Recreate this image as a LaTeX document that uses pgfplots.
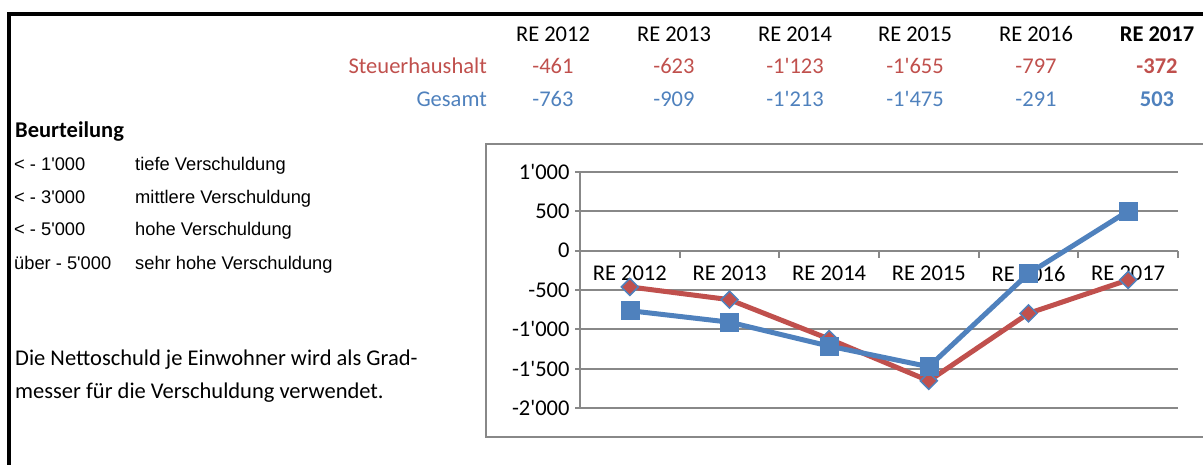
\documentclass[border=0pt]{standalone}
\usepackage{pgfplots}
\pgfplotsset{compat=1.18}
\usepackage{fontspec}
\setmainfont{Carlito}
\newfontfamily\arial{Liberation Sans}
\definecolor{xlRed}{HTML}{C0504D}
\definecolor{xlBlue}{HTML}{4F81BD}
\definecolor{gridG}{HTML}{888888}
\newcommand\q{\textquotesingle}
\newcommand\calf{\fontsize{22.5}{26}\selectfont}
\newcommand\arf{\arial\fontsize{18.3}{22}\selectfont}

\begin{document}
\begin{tikzpicture}
\useasboundingbox (0pt,0pt) rectangle (1203pt,-465pt);
\clip (0pt,0pt) rectangle (1203pt,-465pt);
% frame of the sheet
\draw[black, line width=4pt] (9pt,-465pt) -- (9pt,-14.5pt) -- (1210pt,-14.5pt);
% chart area
\draw[gridG, line width=2pt] (1210pt,-144pt) -- (486pt,-144pt) -- (486pt,-437pt) -- (1210pt,-437pt);

% table on top
\tikzset{cell/.style={font=\calf, anchor=base, inner sep=0pt}}
\foreach \x/\t in {553/RE 2012, 674/RE 2013, 795/RE 2014, 915/RE 2015, 1036/RE 2016}
  \node[cell] at (\x pt,-42pt) {\t};
\node[cell, font=\calf\bfseries] at (1157pt,-42pt) {RE 2017};
\node[cell, text=xlRed, anchor=base east] at (487pt,-74pt) {Steuerhaushalt};
\node[cell, text=xlBlue, anchor=base east] at (487pt,-107pt) {Gesamt};
\foreach \x/\t in {553/-461, 674/-623, 795/-1\q123, 915/-1\q655, 1036/-797}
  \node[cell, text=xlRed] at (\x pt,-74pt) {\t};
\node[cell, font=\calf\bfseries, text=xlRed] at (1157pt,-74pt) {-372};
\foreach \x/\t in {553/-763, 674/-909, 795/-1\q213, 915/-1\q475, 1036/-291}
  \node[cell, text=xlBlue] at (\x pt,-107pt) {\t};
\node[cell, font=\calf\bfseries, text=xlBlue] at (1157pt,-107pt) {503};

% left text
\node[font=\calf\bfseries, anchor=base west, inner sep=0pt] at (15pt,-138pt) {Beurteilung};
\foreach \y/\a/\b in {171/{< - 1\q000}/tiefe Verschuldung,
                      204/{< - 3\q000}/mittlere Verschuldung,
                      236/{< - 5\q000}/hohe Verschuldung,
                      270/{über - 5\q000}/sehr hohe Verschuldung} {
  \node[font=\arf, anchor=base west, inner sep=0pt] at (14pt,-\y pt) {\a};
  \node[font=\arf, anchor=base west, inner sep=0pt] at (135pt,-\y pt) {\b};
}
\node[font=\calf, anchor=base west, inner sep=0pt] at (15pt,-365pt) {Die Nettoschuld je Einwohner wird als Grad-};
\node[font=\calf, anchor=base west, inner sep=0pt] at (15pt,-398pt) {messer für die Verschuldung verwendet.};

\begin{axis}[
  at={(580pt,-408pt)}, anchor=south west,
  scale only axis, width=598pt, height=236pt,
  xmin=0.5, xmax=6.5, ymin=-2000, ymax=1000,
  axis y line=left, axis x line=middle,
  axis line style={-, draw=gridG, line width=2pt},
  xtick={1,...,6},
  xticklabels={RE 2012,RE 2013,RE 2014,RE 2015,RE 2016,RE 2017},
  minor xtick={0.5,1.5,...,6.5},
  major x tick style={draw=none},
  tick style={draw=gridG, line width=2pt},
  tick align=outside, major tick length=5pt, minor tick length=7pt,
  ytick={-2000,-1500,...,1000},
  yticklabels={-2\q000,-1\q500,-1\q000,-500,0,500,1\q000},
  ymajorgrids, grid style={gridG, line width=2pt},
  ticklabel style={font=\calf},
  x tick label style={yshift=-7pt},
  y tick label style={xshift=-2pt},
  clip=false,
]
\addplot[xlRed, line width=5pt, mark=square*,
  mark options={fill=xlRed, draw=xlBlue, line width=1.5pt, mark size=6pt, rotate=45}]
  coordinates {(1,-461) (2,-623) (3,-1123) (4,-1655) (5,-797) (6,-372)};
\addplot[xlBlue, line width=5pt, mark=square*,
  mark options={fill=xlBlue, draw=xlBlue, line width=0.5pt, mark size=9pt}]
  coordinates {(1,-763) (2,-909) (3,-1213) (4,-1475) (5,-291) (6,503)};
\end{axis}
\end{tikzpicture}
\end{document}
